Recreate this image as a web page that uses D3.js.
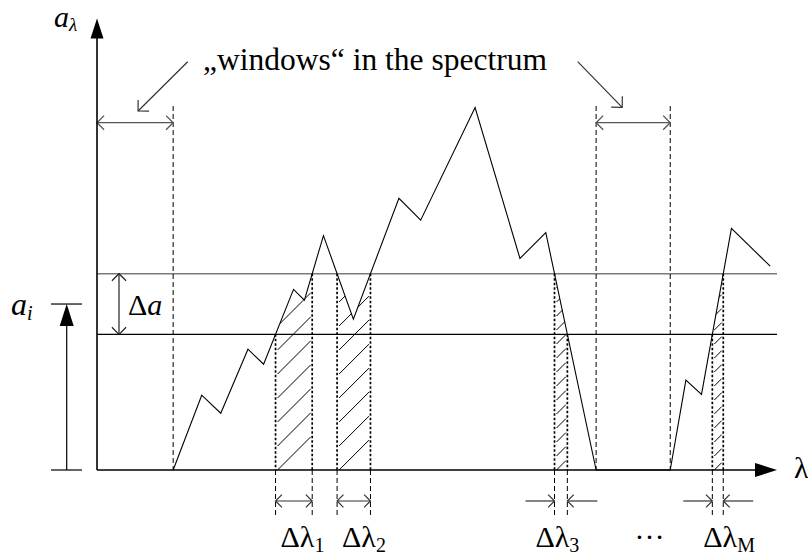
<!DOCTYPE html>
<html>
<head>
<meta charset="utf-8">
<script src="https://cdn.jsdelivr.net/npm/d3@7"></script>
<style>
  body { margin: 0; background: #fff; }
  svg { display: block; }
  svg text { font-family: "Liberation Serif", "Tinos", "DejaVu Serif", serif; fill: #000; }
</style>
</head>
<body>
<svg id="chart" width="808" height="556"></svg>
<script>
// Spectrum a(λ) as a broken line, arbitrary units (λ 0–100, a 0–100)
const lambda    = [11.2, 15.4, 18.2, 22.2, 24.5, 28.9, 30.5, 33.3, 37.7, 44.4, 47.6, 55.6, 62.2, 66.0, 73.4, 84.3, 86.6, 88.9, 93.3, 99.0];
const amplitude = [0, 17.4, 13.2, 28.1, 24.6, 42.0, 39.5, 54.5, 35.1, 63.2, 58.1, 84.3, 49.2, 55.2, 0, 0, 20.9, 17.6, 56.2, 47.4];

// Level a_i and the band width Δa around it
const levelA = 38.6;
const deltaA = 14.1;

// Spectral "windows" (λ ranges with no lines)
const windowRanges = [[0, 11.2], [73.4, 84.3]];

// Subscripts of the Δλ intervals
const bandSubscripts = ["1", "2", "3", "M"];

// ---------------------------------------------------------------------------
const svg = d3.select("#chart");
const x = d3.scaleLinear().domain([0, 100]).range([97, 777]);
const y = d3.scaleLinear().domain([0, 100]).range([470, 40]);
const X0 = x(0), Y0 = y(0);
const yTop = y(105);

const pts = lambda.map((l, i) => [l, amplitude[i]]);
const lo = levelA - deltaA / 2, hi = levelA + deltaA / 2;

const defs = svg.append("defs");

function openHead(g, tip, angle, len, color, width) {
  // open arrowhead, legs at ±45° around the shaft direction
  const a1 = angle + Math.PI - Math.PI / 4, a2 = angle + Math.PI + Math.PI / 4;
  g.append("path")
    .attr("d", `M${tip[0] + len * Math.cos(a1)},${tip[1] + len * Math.sin(a1)}L${tip[0]},${tip[1]}L${tip[0] + len * Math.cos(a2)},${tip[1] + len * Math.sin(a2)}`)
    .attr("fill", "none").attr("stroke", color).attr("stroke-width", width);
}
function arrow(g, from, to, color, width, heads, len) {
  g.append("line").attr("x1", from[0]).attr("y1", from[1]).attr("x2", to[0]).attr("y2", to[1])
    .attr("stroke", color).attr("stroke-width", width);
  const ang = Math.atan2(to[1] - from[1], to[0] - from[0]);
  if (heads.includes("end")) openHead(g, to, ang, len, color, width);
  if (heads.includes("start")) openHead(g, from, ang + Math.PI, len, color, width);
}

// --- intervals where the spectrum lies inside the band [a_i − Δa/2, a_i + Δa/2]
function bandIntervals() {
  const out = [];
  for (let i = 0; i < pts.length - 1; i++) {
    const [l0, a0] = pts[i], [l1, a1] = pts[i + 1];
    let t0, t1;
    if (a1 === a0) {
      if (a0 >= lo && a0 <= hi) { t0 = 0; t1 = 1; } else continue;
    } else {
      const ta = (lo - a0) / (a1 - a0), tb = (hi - a0) / (a1 - a0);
      t0 = Math.max(0, Math.min(ta, tb));
      t1 = Math.min(1, Math.max(ta, tb));
    }
    if (t1 <= t0) continue;
    const s = [l0 + (l1 - l0) * t0, a0 + (a1 - a0) * t0];
    const e = [l0 + (l1 - l0) * t1, a0 + (a1 - a0) * t1];
    const last = out[out.length - 1];
    if (last && Math.abs(last.end[0] - s[0]) < 1e-9) last.end = e;
    else out.push({ start: s, end: e });
  }
  return out;
}
const bands = bandIntervals();

// --- hatched areas under the curve inside each Δλ interval
bands.forEach((b, i) => {
  const inner = pts.filter(p => p[0] > b.start[0] && p[0] < b.end[0]);
  const poly = [b.start, ...inner, b.end, [b.end[0], 0], [b.start[0], 0]]
    .map(p => [x(p[0]), y(p[1])]);
  defs.append("clipPath").attr("id", "hatch" + i)
    .append("path").attr("d", "M" + poly.join("L") + "Z");
  const xa = x(b.start[0]) + 2, xb = x(b.end[0]) - 1.5;
  const w = xb - xa;
  const gap = w > 20 ? 24 : 14;
  const topY = Math.min(y(b.start[1]), y(b.end[1]), ...inner.map(p => y(p[1])));
  const g = svg.append("g").attr("clip-path", `url(#hatch${i})`);
  for (let k = 0; Y0 - k * gap - w > topY - gap; k++) {
    const yy = Y0 - k * gap;
    g.append("line").attr("x1", xa).attr("y1", yy).attr("x2", xb).attr("y2", yy - w)
      .attr("stroke", "#000").attr("stroke-width", 1);
  }
});

// --- band lines
svg.append("line").attr("x1", X0).attr("x2", x(100)).attr("y1", y(hi)).attr("y2", y(hi))
  .attr("stroke", "#7a7a7a").attr("stroke-width", 1.6);
svg.append("line").attr("x1", X0).attr("x2", x(100)).attr("y1", y(lo)).attr("y2", y(lo))
  .attr("stroke", "#000").attr("stroke-width", 1.1);

// --- windows: dashed borders and double arrows
const winY = 122.7, winTop = 106;
windowRanges.forEach(([w0, w1]) => {
  [w0, w1].forEach(v => {
    if (v <= 0) return;
    svg.append("line").attr("x1", x(v)).attr("x2", x(v)).attr("y1", winTop).attr("y2", Y0)
      .attr("stroke", "#000").attr("stroke-width", 1).attr("stroke-dasharray", "5,3");
  });
  arrow(svg, [x(w0), winY], [x(w1), winY], "#555", 1.3, ["start", "end"], 10);
});

// --- annotation for the windows
svg.append("text").attr("x", 375).attr("y", 70).attr("text-anchor", "middle")
  .attr("font-size", 31.5).text("\u201Ewindows\u201C in the spectrum");
{
  const c0 = (x(windowRanges[0][0]) + x(windowRanges[0][1])) / 2;
  const c1 = (x(windowRanges[1][0]) + x(windowRanges[1][1])) / 2;
  arrow(svg, [187.7, 61.7], [c0 + 3, 111], "#333", 1.2, ["end"], 11);
  arrow(svg, [577.7, 61.7], [c1 - 11, 107.3], "#333", 1.2, ["end"], 11);
}

// --- spectrum curve
svg.append("path")
  .datum(pts)
  .attr("d", d3.line().x(d => x(d[0])).y(d => y(d[1])))
  .attr("fill", "none").attr("stroke", "#000").attr("stroke-width", 1.1)
  .attr("stroke-linejoin", "miter");

// --- Δλ interval borders, arrows and labels
const labelShift = [5, 5, -19, -9];
const arrowY = 501;
bands.forEach((b, i) => {
  const xs = x(b.start[0]), xe = x(b.end[0]);
  [[xs, b.start[1]], [xe, b.end[1]]].forEach(([xx, a]) => {
    svg.append("line").attr("x1", xx).attr("x2", xx).attr("y1", y(a)).attr("y2", Y0)
      .attr("stroke", "#000").attr("stroke-width", 1.7).attr("stroke-dasharray", "2.5,2");
    svg.append("line").attr("x1", xx).attr("x2", xx).attr("y1", Y0).attr("y2", 515)
      .attr("stroke", "#000").attr("stroke-width", 1).attr("stroke-dasharray", "5,3");
  });
  if (xe - xs > 20) {
    arrow(svg, [xs, arrowY], [xe, arrowY], "#333", 1.2, ["start", "end"], 9);
  } else {
    arrow(svg, [xs - 29, arrowY], [xs, arrowY], "#333", 1.2, ["end"], 9);
    arrow(svg, [xe + 30, arrowY], [xe, arrowY], "#333", 1.2, ["end"], 9);
  }
  const t = svg.append("text").attr("x", xs + labelShift[i]).attr("y", 547).attr("font-size", 30);
  t.append("tspan").text("\u0394\u03BB");
  t.append("tspan").attr("dy", 5).attr("font-size", 20).text(bandSubscripts[i]);
});
svg.append("text").attr("x", 649.5).attr("y", 539).attr("text-anchor", "middle")
  .attr("font-size", 30).text("\u2026");

// --- axes with filled arrow tips
svg.append("line").attr("x1", X0).attr("x2", X0).attr("y1", Y0).attr("y2", yTop + 18)
  .attr("stroke", "#000").attr("stroke-width", 1.6);
svg.append("path").attr("d", `M${X0},${yTop}L${X0 - 6.5},${yTop + 20}L${X0 + 6.5},${yTop + 20}Z`).attr("fill", "#000");
svg.append("line").attr("x1", X0).attr("x2", x(100) - 20).attr("y1", Y0).attr("y2", Y0)
  .attr("stroke", "#000").attr("stroke-width", 1.6);
svg.append("path").attr("d", `M${x(100)},${Y0}L${x(100) - 22},${Y0 - 7}L${x(100) - 22},${Y0 + 7}Z`).attr("fill", "#000");

// axis labels
{
  const t = svg.append("text").attr("x", 54).attr("y", 27).attr("font-size", 30);
  t.append("tspan").attr("font-style", "italic").text("a");
  t.append("tspan").attr("dy", 4).attr("font-size", 19).attr("font-style", "italic").text("\u03BB");
}
svg.append("text").attr("x", 794).attr("y", 478).attr("font-size", 30).text("\u03BB");

// --- Δa marker
arrow(svg, [119, y(hi)], [119, y(lo)], "#222", 1.2, ["start", "end"], 10);
{
  const t = svg.append("text").attr("x", 128).attr("y", 315).attr("font-size", 30);
  t.append("tspan").text("\u0394");
  t.append("tspan").attr("font-style", "italic").text("a");
}

// --- level a_i marker
{
  const ya = y(levelA);
  [ya, Y0].forEach(yy => svg.append("line").attr("x1", 51).attr("x2", 82).attr("y1", yy).attr("y2", yy)
    .attr("stroke", "#000").attr("stroke-width", 1.2));
  svg.append("line").attr("x1", 66.7).attr("x2", 66.7).attr("y1", Y0).attr("y2", ya + 20)
    .attr("stroke", "#000").attr("stroke-width", 1.2);
  svg.append("path").attr("d", `M66.7,${ya}L${66.7 - 7},${ya + 22}L${66.7 + 7},${ya + 22}Z`).attr("fill", "#000");
  const t = svg.append("text").attr("x", 11).attr("y", 315).attr("font-size", 32);
  t.append("tspan").attr("font-style", "italic").text("a");
  t.append("tspan").attr("dy", 5).attr("font-size", 20).attr("font-style", "italic").text("i");
}
</script>
</body>
</html>
